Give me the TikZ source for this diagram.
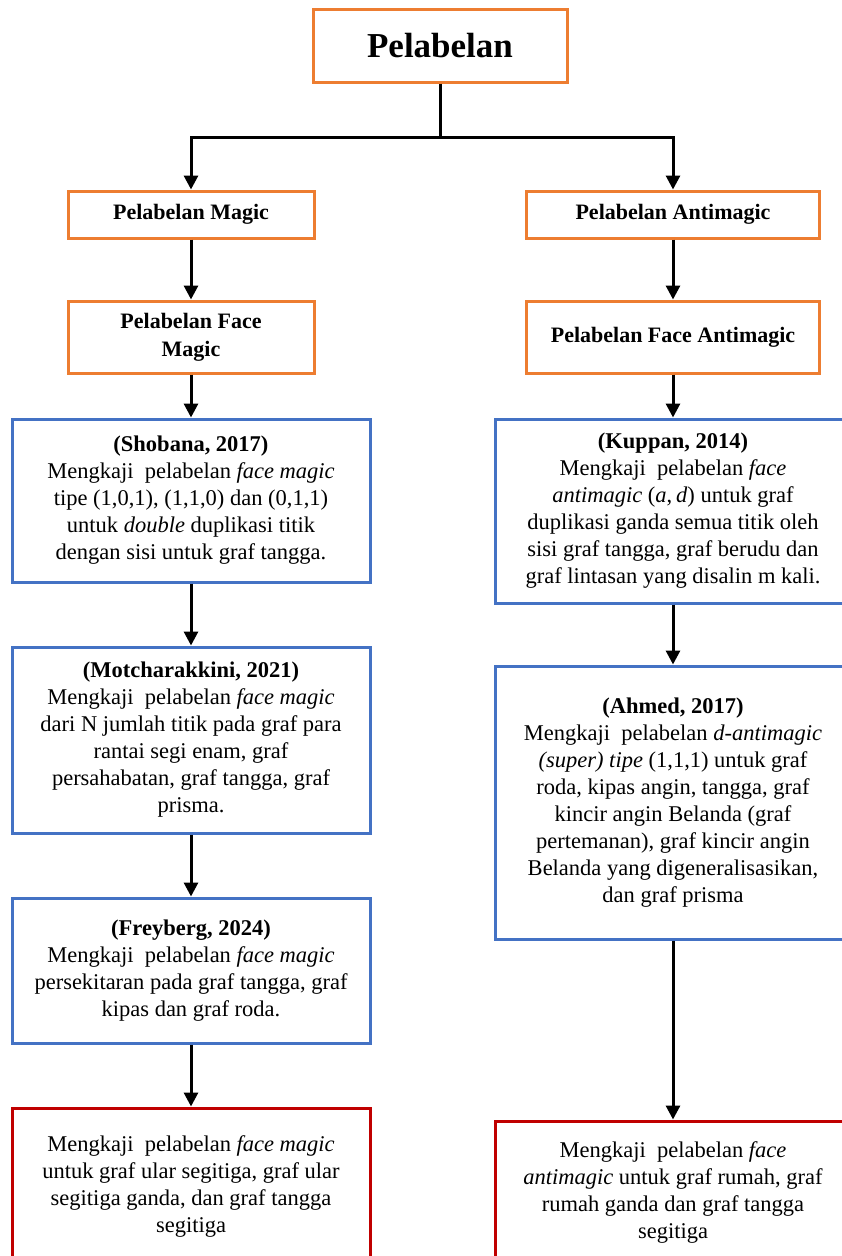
\documentclass[tikz,border=0pt]{standalone}
\usepackage{fontspec}
\setmainfont{Liberation Serif}
\usepackage{xcolor}
\usetikzlibrary{arrows.meta}

\definecolor{boxorange}{HTML}{ED7D31}
\definecolor{boxblue}{HTML}{4472C4}
\definecolor{boxred}{HTML}{C00000}

\begin{document}
\begin{tikzpicture}[x=1pt,y=-1pt,
    orbox/.style={draw=boxorange,line width=3pt,align=center,inner sep=0pt,
      font=\bfseries\fontsize{22}{28}\selectfont},
    bluebox/.style={draw=boxblue,line width=3pt,align=center,inner sep=0pt,
      font=\fontsize{22.5}{27}\selectfont},
    redbox/.style={draw=boxred,line width=3pt,align=center,inner sep=0pt,
      font=\fontsize{22.5}{27}\selectfont},
    link/.style={line width=3pt,-{Triangle[length=14pt,width=14pt]}}]
  \useasboundingbox (0,0) rectangle (842,1256);
  \clip (0,0) rectangle (842,1256);

  \node (lab) [orbox,minimum width=254,minimum height=73,
    font=\bfseries\fontsize{35}{40}\selectfont] at (440,45.5) {Pelabelan};
  \node (mag) [orbox,minimum width=246,minimum height=47] at (191,214.5) {Pelabelan Magic};
  \node (anti) [orbox,minimum width=293,minimum height=47] at (673,214.5) {Pelabelan Antimagic};
  \node (fmag) [orbox,minimum width=246,minimum height=72] at (191,337) {Pelabelan Face\\Magic};
  \node (fanti) [orbox,minimum width=293,minimum height=72] at (673,337) {Pelabelan Face Antimagic};

  \node (shob) [bluebox,minimum width=358,minimum height=163] at (191,500.5)
    {\textbf{(Shobana, 2017)}\\
     Mengkaji\ \ pelabelan \textit{face magic}\\
     tipe (1,0,1), (1,1,0) dan (0,1,1)\\
     untuk \textit{double} duplikasi titik\\
     dengan sisi untuk graf tangga.};
  \node (motc) [bluebox,minimum width=358,minimum height=186] at (191,740)
    {\textbf{(Motcharakkini, 2021)}\\
     Mengkaji\ \ pelabelan \textit{face magic}\\
     dari N jumlah titik pada graf para\\
     rantai segi enam, graf\\
     persahabatan, graf tangga, graf\\
     prisma.};
  \node (frey) [bluebox,minimum width=358,minimum height=145] at (191,970.5)
    {\textbf{(Freyberg, 2024)}\\
     Mengkaji\ \ pelabelan \textit{face magic}\\
     persekitaran pada graf tangga, graf\\
     kipas dan graf roda.};
  \node (res1) [redbox,minimum width=358,minimum height=156] at (191,1186)
    {Mengkaji\ \ pelabelan \textit{face magic}\\
     untuk graf ular segitiga, graf ular\\
     segitiga ganda, dan graf tangga\\
     segitiga};

  \node (kupp) [bluebox,minimum width=356,minimum height=184] at (673,511)
    {\textbf{(Kuppan, 2014)}\\
     Mengkaji\ \ pelabelan \textit{face}\\
     \textit{antimagic} (\textit{a},\,\textit{d}) untuk graf\\
     duplikasi ganda semua titik oleh\\
     sisi graf tangga, graf berudu dan\\
     graf lintasan yang disalin m kali.};
  \node (ahmd) [bluebox,minimum width=356,minimum height=273] at (673,802.5)
    {\textbf{(Ahmed, 2017)}\\
     Mengkaji\ \ pelabelan \textit{d-antimagic}\\
     \textit{(super) tipe} (1,1,1) untuk graf\\
     roda, kipas angin, tangga, graf\\
     kincir angin Belanda (graf\\
     pertemanan), graf kincir angin\\
     Belanda yang digeneralisasikan,\\
     dan graf prisma};
  \node (res2) [redbox,minimum width=356,minimum height=142] at (673,1192)
    {Mengkaji\ \ pelabelan \textit{face}\\
     \textit{antimagic} untuk graf rumah, graf\\
     rumah ganda dan graf tangga\\
     segitiga};

  \draw[line width=3pt] (lab.south) -- ++(0,54) coordinate (fork);
  \draw[link] (fork) -| (mag.north);
  \draw[link] (fork) -| (anti.north);
  \draw[link] (mag) -- (fmag);
  \draw[link] (fmag) -- (shob);
  \draw[link] (shob) -- (motc);
  \draw[link] (motc) -- (frey);
  \draw[link] (frey) -- (res1);
  \draw[link] (anti) -- (fanti);
  \draw[link] (fanti) -- (kupp);
  \draw[link] (kupp) -- (ahmd);
  \draw[link] (ahmd) -- (res2);
\end{tikzpicture}
\end{document}
